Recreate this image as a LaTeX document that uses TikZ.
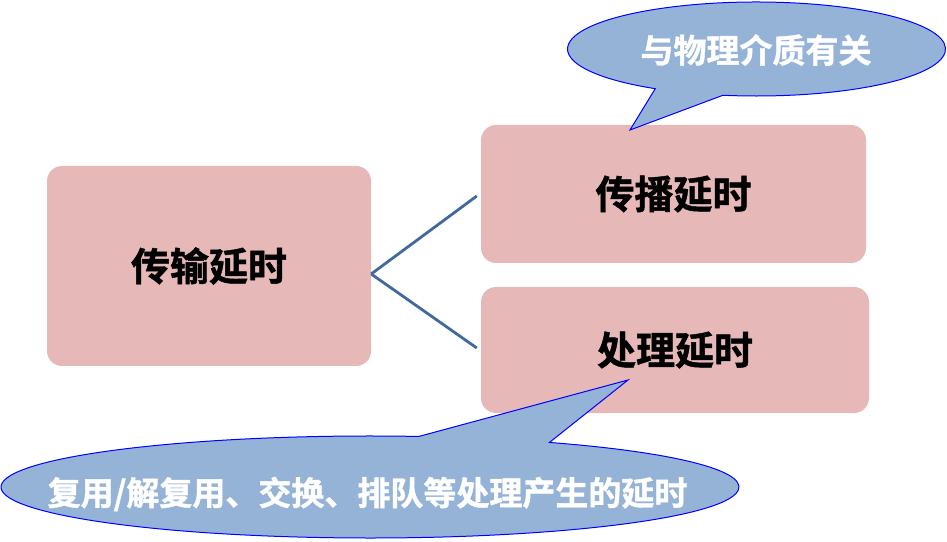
\documentclass[tikz,border=0pt]{standalone}
\usepackage{fontspec}
\newfontfamily\cjk{Noto Sans CJK SC Bold}[FakeBold=1.2]
\definecolor{boxfill}{HTML}{E6B8B7}
\definecolor{callfill}{HTML}{95B3D7}
\definecolor{linecol}{HTML}{41689F}
\begin{document}
\begin{tikzpicture}[x=1pt,y=1pt,
  box/.style={fill=boxfill,draw=none,rounded corners=15pt,inner sep=0pt},
  boxtext/.style={font=\cjk\fontsize{39}{42}\selectfont,text=black},
  calltext/.style={font=\cjk\fontsize{33}{36}\selectfont,text=white,inner sep=0pt},
  callout/.style={fill=callfill,draw=blue,line width=1pt,line join=miter},
  conn/.style={draw=linecol,line width=2.8pt}]
\useasboundingbox (0,0) rectangle (947,541);
% boxes
\node[box,minimum width=324pt,minimum height=200pt] (left) at (209,275) {};
\node[boxtext] (lefttext) at (left.center) {传输延时};
\node[box,minimum width=385pt,minimum height=138pt] (tr) at (673.5,347) {};
\node[boxtext] (trtext) at (tr.center) {传播延时};
\node[box,minimum width=388pt,minimum height=126pt] (br) at (675,191) {};
\node[boxtext] (brtext) at (br.center) {处理延时};
% connectors
\draw[conn] ([yshift=-8pt]left.east) -- ([xshift=-4pt,yshift=-2pt]tr.west);
\draw[conn] ([yshift=-8pt]left.east) -- ([xshift=-4pt,yshift=2pt]br.west);
% callout 1
\coordinate (c1) at (756.5,492);
\coordinate (tip1) at (630,411);
\path[callout] (c1) ++(259.8:189pt and 47pt)
  arc[start angle=259.8,end angle=597.6,x radius=189pt,y radius=47pt]
  -- (tip1) -- cycle;
\node[calltext] (t1) at (756,491) {与物理介质有关};
% callout 2
\coordinate (c2) at (370,54);
\coordinate (tip2) at (628,161);
\path[callout] (c2) ++(82.4:369pt and 51pt)
  arc[start angle=82.4,end angle=420.9,x radius=369pt,y radius=51pt]
  -- (tip2) -- cycle;
\node[calltext] (t2) at (367.5,47) {复用/解复用、交换、排队等处理产生的延时};
\end{tikzpicture}
\end{document}
